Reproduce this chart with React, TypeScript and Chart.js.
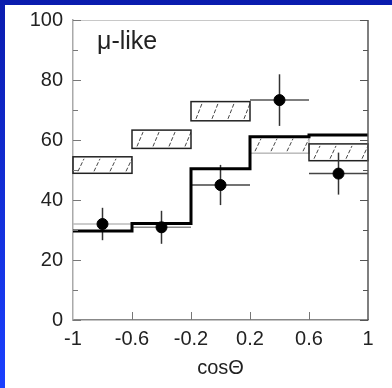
import React, { useEffect, useRef } from 'react';
import { Chart, registerables } from 'chart.js';

Chart.register(...registerables);

// ---- data ----
const binEdges = [-1, -0.6, -0.2, 0.2, 0.6, 1];
const xTickLabels = ['-1', '-0.6', '-0.2', '0.2', '0.6', '1'];
const yTickStep = 20;
const yMinorStep = 10;
const noOscLow = [48.9, 57.2, 66.4, 55.6, 53.1];
const noOscHigh = [54.4, 63.3, 72.8, 61.1, 58.7];
const bestFit = [29.7, 32.2, 50.4, 61.1, 61.7];
const dataCenters = [-0.8, -0.4, 0, 0.4, 0.8];
const dataValues = [32, 30.9, 45, 73.3, 48.8];
const dataErrors = [5.4, 5.5, 6.7, 8.6, 7];
const panelLabel = 'μ-like';
const xTitle = 'cosΘ';

// ---- styles ----
const boxBorderColors = ['#222', '#222', '#222', '#bbb', '#222'];
const hBarColors = ['#bbb', '#888', '#444', '#555', '#444'];
const FONT = '"Liberation Sans", Arial, Helvetica, sans-serif';

export default function App() {
  const ref = useRef<HTMLCanvasElement>(null);

  useEffect(() => {
    const canvas = ref.current;
    if (!canvas) return;

    const histData = binEdges.map((x, i) => ({ x, y: bestFit[Math.min(i, bestFit.length - 1)] }));
    const pointData = dataCenters.map((x, i) => ({ x, y: dataValues[i] }));

    const underlay = {
      id: 'underlay',
      beforeDatasetsDraw(chart: any) {
        const { ctx, scales } = chart;
        const xs = scales.x;
        const ys = scales.y;
        ctx.save();
        for (let i = 0; i < noOscLow.length; i++) {
          const x0 = xs.getPixelForValue(binEdges[i]);
          const x1 = xs.getPixelForValue(binEdges[i + 1]);
          const yT = ys.getPixelForValue(noOscHigh[i]);
          const yB = ys.getPixelForValue(noOscLow[i]);
          ctx.save();
          ctx.beginPath();
          ctx.rect(x0, yT, x1 - x0, yB - yT);
          ctx.clip();
          ctx.strokeStyle = '#444';
          ctx.lineWidth = 1;
          ctx.setLineDash([4, 2]);
          for (let sx = x0 + 5; sx < x1; sx += 16) {
            ctx.beginPath();
            ctx.moveTo(sx, yB - 2);
            ctx.lineTo(sx + 6, yT + 2);
            ctx.stroke();
          }
          ctx.restore();
          ctx.strokeStyle = boxBorderColors[i];
          ctx.lineWidth = 1.5;
          ctx.setLineDash([]);
          ctx.strokeRect(x0, yT, x1 - x0, yB - yT);
        }
        for (let i = 0; i < dataCenters.length; i++) {
          const cx = xs.getPixelForValue(dataCenters[i]);
          const cy = ys.getPixelForValue(dataValues[i]);
          const hx0 = xs.getPixelForValue(binEdges[i]);
          const hx1 = xs.getPixelForValue(binEdges[i + 1]);
          ctx.strokeStyle = hBarColors[i];
          ctx.lineWidth = 1.5;
          ctx.beginPath();
          ctx.moveTo(hx0, cy);
          ctx.lineTo(hx1, cy);
          ctx.stroke();
          ctx.strokeStyle = '#333';
          ctx.beginPath();
          ctx.moveTo(cx, ys.getPixelForValue(dataValues[i] + dataErrors[i]));
          ctx.lineTo(cx, ys.getPixelForValue(dataValues[i] - dataErrors[i]));
          ctx.stroke();
        }
        ctx.restore();
      },
    };

    const frame = {
      id: 'frame',
      afterDatasetsDraw(chart: any) {
        const { ctx, chartArea, scales } = chart;
        const { left, right, top, bottom } = chartArea;
        const ys = scales.y;
        const xs = scales.x;
        ctx.save();
        ctx.lineWidth = 1;
        ctx.strokeStyle = '#c8c8c8';
        ctx.beginPath();
        ctx.moveTo(left, top + 0.5);
        ctx.lineTo(right, top + 0.5);
        ctx.stroke();
        ctx.strokeStyle = '#555';
        ctx.lineWidth = 1.5;
        ctx.beginPath();
        ctx.moveTo(right, top);
        ctx.lineTo(right, bottom);
        ctx.stroke();
        for (let v = ys.min; v <= ys.max; v += yMinorStep) {
          const y = Math.round(ys.getPixelForValue(v)) + 0.5;
          const len = v % yTickStep === 0 ? 8 : 5;
          ctx.lineWidth = 1;
          ctx.strokeStyle = '#777';
          ctx.beginPath();
          ctx.moveTo(left, y);
          ctx.lineTo(left + len, y);
          ctx.stroke();
          ctx.strokeStyle = '#555';
          ctx.beginPath();
          ctx.moveTo(right, y);
          ctx.lineTo(right - len, y);
          ctx.stroke();
        }
        ctx.strokeStyle = '#777';
        for (let i = 1; i < binEdges.length - 1; i++) {
          const x = Math.round(xs.getPixelForValue(binEdges[i])) + 0.5;
          ctx.beginPath();
          ctx.moveTo(x, bottom);
          ctx.lineTo(x, bottom - 8);
          ctx.stroke();
        }
        ctx.fillStyle = '#222';
        ctx.font = `25px ${FONT}`;
        ctx.textBaseline = 'middle';
        ctx.textAlign = 'left';
        ctx.fillText(panelLabel, left + 24, top + 22);
        ctx.restore();
      },
    };

    const chart = new Chart(canvas, {
      type: 'line',
      data: {
        datasets: [
          {
            type: 'line',
            data: histData,
            stepped: true,
            borderColor: '#000',
            borderWidth: 3,
            pointRadius: 0,
            fill: false,
          } as any,
          {
            type: 'scatter',
            data: pointData,
            backgroundColor: '#000',
            borderColor: '#000',
            pointRadius: 5.5,
            showLine: false,
          } as any,
        ],
      },
      options: {
        animation: false,
        responsive: false,
        devicePixelRatio: 1,
        layout: { padding: { top: 15, right: 24, bottom: 0, left: 0 } },
        plugins: { legend: { display: false }, tooltip: { enabled: false } },
        scales: {
          x: {
            type: 'linear',
            min: -1,
            max: 1,
            afterBuildTicks: (s: any) => {
              s.ticks = binEdges.map((v) => ({ value: v }));
            },
            afterFit: (s: any) => {
              s.height = 68;
            },
            ticks: {
              callback: (_v: any, i: number) => xTickLabels[i],
              font: { family: FONT, size: 20 },
              color: '#222',
              padding: 7,
              maxRotation: 0,
              autoSkip: false,
            },
            grid: { display: false, drawTicks: false },
            border: { display: true, color: '#888', width: 1.5 },
            title: {
              display: true,
              text: xTitle,
              font: { family: FONT, size: 20 },
              color: '#222',
              padding: { top: 2, bottom: 8 },
            },
          },
          y: {
            type: 'linear',
            min: 0,
            max: 100,
            afterFit: (s: any) => {
              s.width = 68;
              s.paddingTop = 0;
              s.paddingBottom = 0;
            },
            ticks: {
              stepSize: yTickStep,
              font: { family: FONT, size: 20 },
              color: '#222',
              padding: 10,
            },
            grid: { display: false, drawTicks: false },
            border: { display: true, color: '#aaa', width: 1.5 },
          },
        },
      },
      plugins: [underlay, frame],
    } as any);

    return () => chart.destroy();
  }, []);

  return (
    <div
      style={{
        position: 'fixed',
        inset: 0,
        background: 'linear-gradient(to bottom, #0a1cae, #1a40ff)',
      }}
    >
      <div
        style={{
          position: 'absolute',
          left: 5,
          top: 5,
          width: 387,
          height: 383,
          background: '#fff',
        }}
      >
        <canvas ref={ref} width={387} height={383} style={{ display: 'block' }} />
      </div>
    </div>
  );
}
